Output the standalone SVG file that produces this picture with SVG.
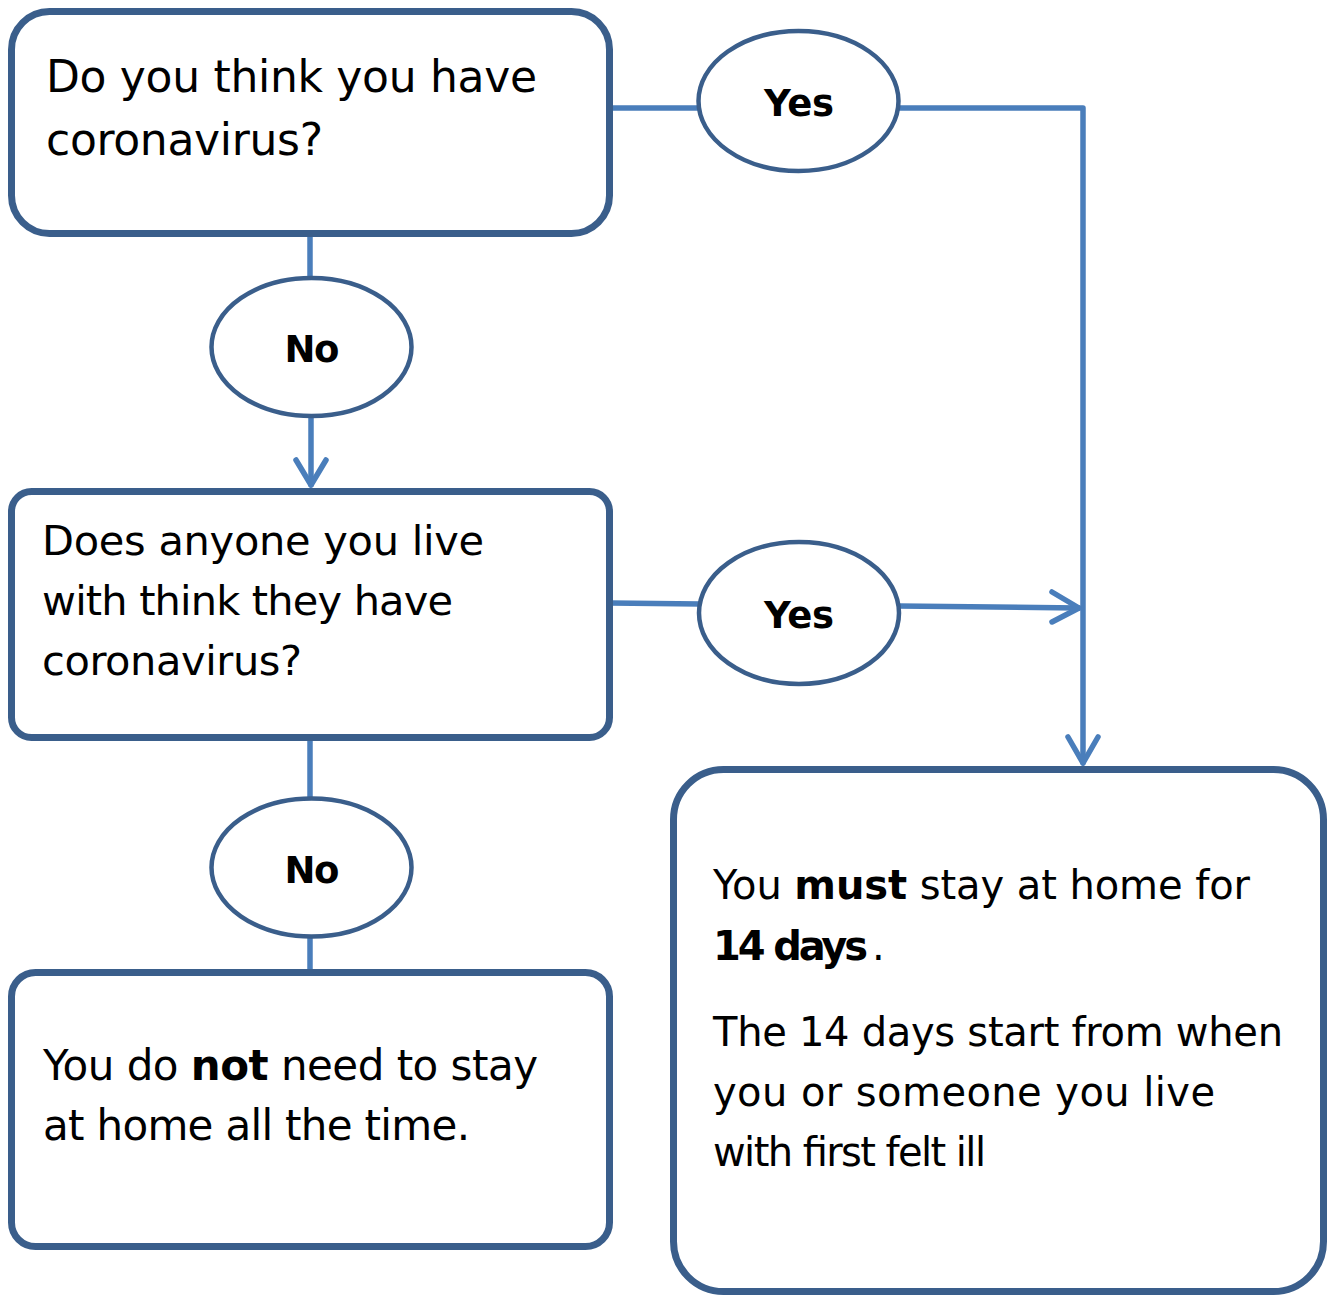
<svg xmlns="http://www.w3.org/2000/svg" width="1332" height="1295" viewBox="0 0 1332 1295">
<style>
.box{fill:#fff;stroke:#3a5e8b;stroke-width:7}
.ell{fill:#fff;stroke:#3a5e8b;stroke-width:4.5}
.con{fill:none;stroke:#4a7ebb;stroke-width:5.5;stroke-linecap:round;stroke-linejoin:round}
.t{font-family:"DejaVu Sans","Noto Sans",sans-serif;fill:#000}
.lbl{font-family:"DejaVu Sans","Noto Sans",sans-serif;font-weight:bold;font-size:37px;fill:#000;text-anchor:middle}
.b{font-weight:bold}
</style>
<rect width="1332" height="1295" fill="#fff"/>
<g id="connectors">
<path class="con" d="M612 108 H700"/>
<path class="con" d="M898 108 H1083 V763"/>
<path class="con" d="M1068 737 L1083 763 L1098 737"/>
<path class="con" d="M310 236 V279"/>
<path class="con" d="M311 416 V485"/>
<path class="con" d="M296 460 L311 485 L326 460"/>
<path class="con" d="M610 603 L700 604"/>
<path class="con" d="M898 606 L1079 608"/>
<path class="con" d="M1052 592 L1079 608 L1052 622"/>
<path class="con" d="M310 740 V799"/>
<path class="con" d="M310 937 V971"/>
</g>
<g id="q1">
<rect class="box" x="11.5" y="11.5" width="598" height="222" rx="38"/>
<text class="t" font-size="44"><tspan x="46" y="92" textLength="491">Do you think you have</tspan><tspan x="46" y="155" textLength="277">coronavirus?</tspan></text>
</g>
<g id="yes1">
<ellipse class="ell" cx="798.5" cy="101" rx="100" ry="70"/>
<text class="lbl" x="799" y="116" textLength="70">Yes</text>
</g>
<g id="no1">
<ellipse class="ell" cx="311.5" cy="347" rx="100" ry="69"/>
<text class="lbl" x="312" y="362" textLength="55">No</text>
</g>
<g id="q2">
<rect class="box" x="11.5" y="491.5" width="598" height="246" rx="20"/>
<text class="t" font-size="41.5"><tspan x="42" y="555" textLength="442">Does anyone you live</tspan><tspan x="42" y="615" textLength="411">with think they have</tspan><tspan x="42" y="675" textLength="260">coronavirus?</tspan></text>
</g>
<g id="yes2">
<ellipse class="ell" cx="799" cy="613" rx="100" ry="71"/>
<text class="lbl" x="799" y="628" textLength="70">Yes</text>
</g>
<g id="no2">
<ellipse class="ell" cx="311.5" cy="867.5" rx="100" ry="69"/>
<text class="lbl" x="312" y="883" textLength="55">No</text>
</g>
<g id="notneed">
<rect class="box" x="11.5" y="972.5" width="598" height="274" rx="24"/>
<text class="t" font-size="42" x="43" y="1080" textLength="495">You do <tspan class="b">not</tspan> need to stay</text>
<text class="t" font-size="42" x="43" y="1140" textLength="427">at home all the time.</text>
</g>
<g id="mustStay">
<rect class="box" x="673.5" y="769.5" width="650" height="522" rx="50"/>
<text class="t" font-size="40" x="713" y="899" textLength="537">You <tspan class="b">must</tspan> stay at home for</text>
<text class="t b" font-size="40" x="713" y="960" textLength="155">14 days</text>
<text class="t" font-size="40" x="872" y="960">.</text>
<text class="t" font-size="40" x="713" y="1046" textLength="570">The 14 days start from when</text>
<text class="t" font-size="40" x="713" y="1106" textLength="502">you or someone you live</text>
<text class="t" font-size="40" x="713" y="1166" textLength="273">with first felt ill</text>
</g>
</svg>
